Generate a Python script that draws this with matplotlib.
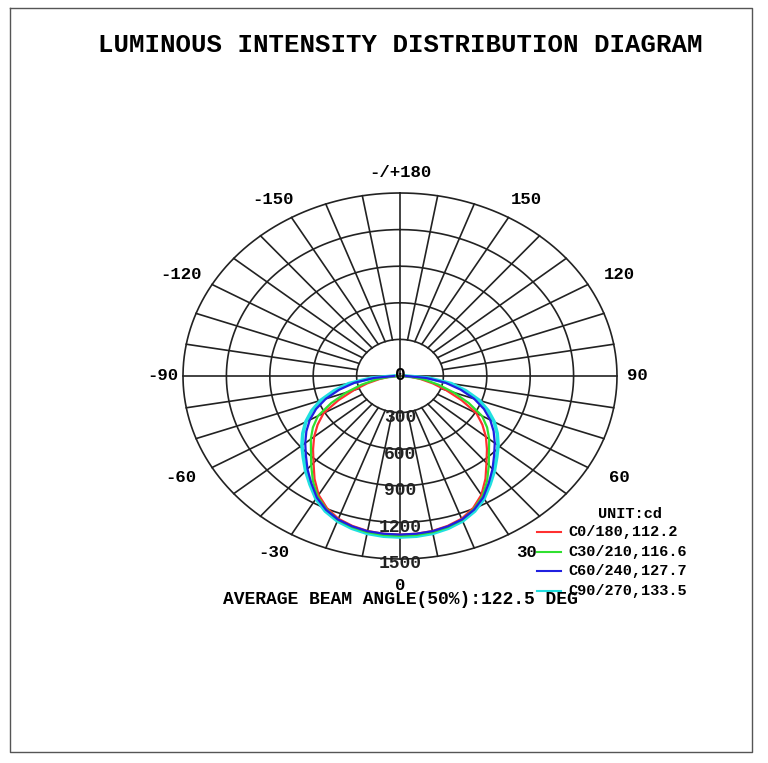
import numpy as np
import matplotlib.pyplot as plt

gamma = [0, 5, 10, 15, 20, 25, 30, 35, 40, 45, 50, 55, 60, 65, 70, 75, 80, 85, 90]
c0 = [1300, 1298, 1290, 1272, 1245, 1195, 1125, 1030, 930, 850, 775, 695, 610, 470, 340, 235, 145, 70, 20]
c30 = [1310, 1308, 1300, 1282, 1255, 1205, 1140, 1050, 955, 870, 805, 735, 655, 525, 395, 275, 170, 80, 20]
c60 = [1300, 1298, 1292, 1276, 1252, 1210, 1150, 1070, 995, 920, 855, 790, 720, 640, 545, 435, 320, 180, 40]
c90 = [1320, 1318, 1310, 1292, 1265, 1222, 1162, 1085, 1015, 945, 885, 820, 752, 672, 582, 472, 360, 200, 40]
names = ['C0/180,112.2', 'C30/210,116.6', 'C60/240,127.7', 'C90/270,133.5']
colors = ['#ff3030', '#30e030', '#2020e0', '#20e0e0']
rings = [300, 600, 900, 1200, 1500]
angle_labels = [180, 150, 120, 90, 60, 30, -30, -60, -90, -120, -150]

# pixel layout: center at (400, 376), px per cd
cx, cy = 400, 376
sx, sy = 217 / 1500, 183 / 1500
W, H = 768, 763

fig = plt.figure(figsize=(W / 100, H / 100), dpi=100)
ax = fig.add_axes([0, 0, 1, 1])
ax.set_xlim(-cx / sx, (W - cx) / sx)
ax.set_ylim(-(H - cy) / sy, cy / sy)
ax.axis('off')

def px(x, y):
    return (x - cx) / sx, (cy - y) / sy

mono = ['Liberation Mono', 'DejaVu Sans Mono']
# border
bx0, by0 = px(10, 8)
bx1, by1 = px(752, 752)
ax.plot([bx0, bx1, bx1, bx0, bx0], [by0, by0, by1, by1, by0], color='#555555', lw=1)

# grid
t = np.linspace(0, 2 * np.pi, 400)
for r in rings:
    ax.plot(r * np.sin(t), r * np.cos(t), color='#222222', lw=1.2)
for a in range(0, 360, 10):
    th = np.radians(a)
    r0 = 0 if a % 90 == 0 else rings[0]
    ax.plot([r0 * np.sin(th), 1500 * np.sin(th)], [r0 * np.cos(th), 1500 * np.cos(th)],
            color='#222222', lw=1.2)

# curves (cyan drawn first, underneath)
g = np.radians(np.array(gamma))
order = [3, 0, 1, 2]
for i in order:
    v = np.array([c0, c30, c60, c90][i])
    ang = np.concatenate([-g[::-1], g[1:]])
    rr = np.concatenate([v[::-1], v[1:]])
    lw = 2.6 if i == 3 else 1.6
    ax.plot(rr * np.sin(ang), -rr * np.cos(ang), color=colors[i], lw=lw, zorder=3,
            solid_joinstyle='round')

# angle labels
for a in angle_labels:
    th = np.radians(a)
    rl = 1500 + 120
    txt = '-/+180' if a == 180 else str(a)
    x, y = rl * np.sin(th) * 1.08, -rl * np.cos(th) * 1.03
    if abs(a) == 90:
        x = np.sign(a) * 1640
    ax.text(x, y, txt, ha='center', va='center', family=mono, weight='bold', fontsize=12.5)

# radial labels
ax.text(0, 0, '0', ha='center', va='center', family=mono, weight='bold', fontsize=13, zorder=4)
for r in rings:
    ax.text(0, -r - 40, str(r), ha='center', va='center', family=mono, weight='bold',
            fontsize=13, color='#222222', zorder=4)
ax.text(*px(400, 585), '0', ha='center', va='center', family=mono, weight='bold', fontsize=12.5)

ax.text(*px(400, 45), 'LUMINOUS INTENSITY DISTRIBUTION DIAGRAM', ha='center', va='center',
        family=mono, weight='bold', fontsize=18.5)
ax.text(*px(400, 600), 'AVERAGE BEAM ANGLE(50%):122.5 DEG', ha='center', va='center',
        family=mono, weight='bold', fontsize=13)

# legend
ax.text(*px(598, 514), 'UNIT:cd', ha='left', va='center', family=mono, weight='bold', fontsize=11)
for i, (n, c) in enumerate(zip(names, colors)):
    y = 532 + i * 19.7
    x0, yy = px(537, y)
    x1, _ = px(561, y)
    ax.plot([x0, x1], [yy, yy], color=c, lw=1.5)
    ax.text(*px(568, y), n, ha='left', va='center', family=mono, weight='bold', fontsize=11)

fig.savefig('out.png', dpi=100)
